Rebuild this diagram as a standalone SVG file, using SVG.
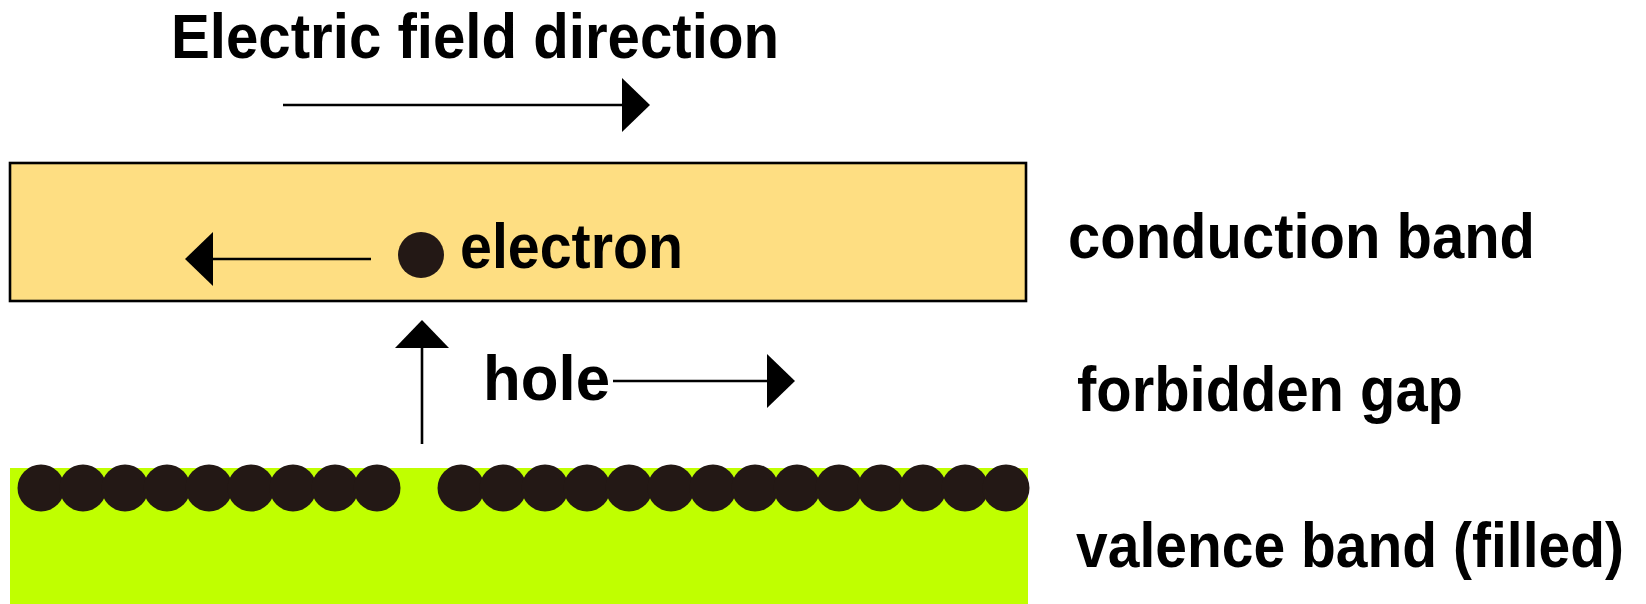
<svg xmlns="http://www.w3.org/2000/svg" width="1646" height="604" viewBox="0 0 1646 604">
<style>
.t{font-family:"Liberation Sans",Arial,sans-serif;font-weight:bold;font-size:63px;fill:#000}
.ln{stroke:#000;stroke-width:2.6;fill:none;marker-end:url(#ah)}
.dot{fill:#231815}
</style>
<defs>
<marker id="ah" markerUnits="userSpaceOnUse" markerWidth="28" markerHeight="54" viewBox="0 0 28 54" refX="0" refY="27" orient="auto" overflow="visible">
<path d="M0,0 L28,27 L0,54 Z" fill="#000"/>
</marker>
</defs>
<rect width="1646" height="604" fill="#fff"/>
<g id="conduction-band">
<rect x="10" y="163" width="1016" height="138" fill="#FEDE82" stroke="#000" stroke-width="2.6"/>
</g>
<g id="valence-band">
<rect x="10" y="468" width="1018" height="136" fill="#C0FF00"/>
<g class="dot">
<circle cx="41" cy="488" r="23.5"/><circle cx="83" cy="488" r="23.5"/><circle cx="125" cy="488" r="23.5"/><circle cx="167" cy="488" r="23.5"/><circle cx="209" cy="488" r="23.5"/><circle cx="251" cy="488" r="23.5"/><circle cx="293" cy="488" r="23.5"/><circle cx="335" cy="488" r="23.5"/><circle cx="377" cy="488" r="23.5"/>
<circle cx="461" cy="488" r="23.5"/><circle cx="503" cy="488" r="23.5"/><circle cx="545" cy="488" r="23.5"/><circle cx="587" cy="488" r="23.5"/><circle cx="629" cy="488" r="23.5"/><circle cx="671" cy="488" r="23.5"/><circle cx="713" cy="488" r="23.5"/><circle cx="755" cy="488" r="23.5"/><circle cx="797" cy="488" r="23.5"/><circle cx="839" cy="488" r="23.5"/><circle cx="881" cy="488" r="23.5"/><circle cx="923" cy="488" r="23.5"/><circle cx="965" cy="488" r="23.5"/><circle cx="1006" cy="488" r="23.5"/>
</g>
</g>
<g id="electron">
<circle class="dot" cx="421" cy="255" r="23"/>
<text class="t" x="460" y="268" textLength="223" lengthAdjust="spacingAndGlyphs">electron</text>
</g>
<g id="title">
<text class="t" x="171" y="58" textLength="608" lengthAdjust="spacingAndGlyphs">Electric field direction</text>
</g>
<g id="hole">
<text class="t" x="483" y="400" textLength="127" lengthAdjust="spacingAndGlyphs">hole</text>
</g>
<g id="labels">
<text class="t" x="1068" y="258" textLength="467" lengthAdjust="spacingAndGlyphs">conduction band</text>
<text class="t" x="1077" y="411" textLength="386" lengthAdjust="spacingAndGlyphs">forbidden gap</text>
<text class="t" transform="translate(1076,567) scale(1,1.1)" x="0" y="0" style="font-size:57px" textLength="548" lengthAdjust="spacingAndGlyphs">valence band (filled)</text>
</g>
<g id="connectors">
<line class="ln" x1="283" y1="105" x2="622" y2="105"/>
<line class="ln" x1="371" y1="259" x2="213" y2="259"/>
<line class="ln" x1="422" y1="444" x2="422" y2="348"/>
<line class="ln" x1="613" y1="381" x2="767" y2="381"/>
</g>
</svg>
